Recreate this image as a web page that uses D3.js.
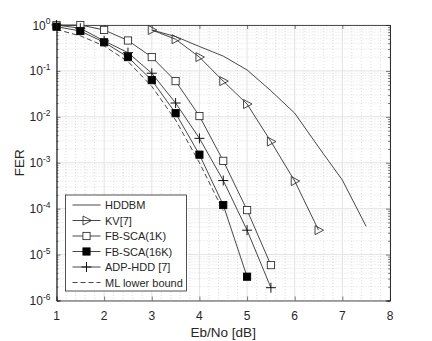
<!DOCTYPE html>
<html>
<head>
<meta charset="utf-8">
<script src="https://cdn.jsdelivr.net/npm/d3@7"></script>
<style>
  body { margin: 0; background: #fff; }
  text { font-family: "Liberation Sans", Arial, sans-serif; fill: #262626; }
</style>
</head>
<body>
<div id="chart"></div>
<script>
// data
const hddbmX = [3, 3.5, 4, 4.5, 5, 5.5, 6, 6.5, 7, 7.5];
const hddbm = [0.78, 0.56, 0.34, 0.21, 0.105, 0.037, 0.012, 0.0022, 4.2e-4, 4.1e-5];

const kvX = [3, 3.5, 4, 4.5, 5, 5.5, 6, 6.5];
const kv = [0.78, 0.49, 0.2, 0.06, 0.019, 0.0029, 4e-4, 3.4e-5];

const sca1kX = [1, 1.5, 2, 2.5, 3, 3.5, 4, 4.5, 5, 5.5];
const sca1k = [1.0, 1.0, 0.78, 0.46, 0.2, 0.06, 0.0104, 0.0011, 9.3e-5, 5.9e-6];

const sca16kX = [1, 1.5, 2, 2.5, 3, 3.5, 4, 4.5, 5];
const sca16k = [0.92, 0.74, 0.42, 0.2, 0.063, 0.012, 0.0015, 1.2e-4, 3.3e-6];

const adpX = [1, 1.5, 2, 2.5, 3, 3.5, 4, 4.5, 5, 5.5];
const adp = [1.0, 0.85, 0.45, 0.25, 0.089, 0.02, 0.0034, 4.1e-4, 3.4e-5, 1.9e-6];

const mlX = [1, 1.5, 2, 2.5, 3, 3.5, 4, 4.5];
const ml = [0.8, 0.58, 0.35, 0.16, 0.046, 0.0085, 0.001, 9e-5];

const xTicks = [1, 2, 3, 4, 5, 6, 7, 8];
const yExps = [0, -1, -2, -3, -4, -5, -6];

const legendNames = ['HDDBM', 'KV[7]', 'FB-SCA(1K)', 'FB-SCA(16K)', 'ADP-HDD [7]', 'ML lower bound'];

const width = 432, height = 341;
const margin = { top: 25, right: 42, bottom: 40.5, left: 56.5 };
const iw = width - margin.left - margin.right;
const ih = height - margin.top - margin.bottom;
const ink = '#262626';
const lineCol = '#333';

const svg = d3.select('#chart').append('svg')
  .attr('width', width)
  .attr('height', height);

const g = svg.append('g')
  .attr('transform', `translate(${margin.left}, ${margin.top})`);

const x = d3.scaleLinear().domain([1, 8]).range([0, iw]);
const y = d3.scaleLog().domain([1e-6, 1]).range([ih, 0]);

// minor grid
const xMinor = d3.range(1, 8.001, 0.2).filter(v => Math.abs(v - Math.round(v)) > 1e-6);
const yMinor = [];
yExps.slice(1).forEach(e => { for (let k = 2; k <= 9; k++) yMinor.push(k * Math.pow(10, e)); });

g.append('g').selectAll('line').data(xMinor).enter().append('line')
  .attr('x1', d => x(d)).attr('x2', d => x(d)).attr('y1', 0).attr('y2', ih)
  .attr('stroke', '#c8c8c8').attr('stroke-width', 0.6).attr('stroke-dasharray', '1,2');
g.append('g').selectAll('line').data(yMinor).enter().append('line')
  .attr('x1', 0).attr('x2', iw).attr('y1', d => y(d)).attr('y2', d => y(d))
  .attr('stroke', '#c8c8c8').attr('stroke-width', 0.6).attr('stroke-dasharray', '1,2');

// major grid
g.append('g').selectAll('line').data(xTicks).enter().append('line')
  .attr('x1', d => x(d)).attr('x2', d => x(d)).attr('y1', 0).attr('y2', ih)
  .attr('stroke', '#e3e3e3').attr('stroke-width', 1);
g.append('g').selectAll('line').data(yExps).enter().append('line')
  .attr('x1', 0).attr('x2', iw).attr('y1', d => y(Math.pow(10, d))).attr('y2', d => y(Math.pow(10, d)))
  .attr('stroke', '#e3e3e3').attr('stroke-width', 1);

// axes, ticks inside on all sides
const axB = d3.axisBottom(x).tickValues(xTicks).tickSize(-4).tickFormat('');
const axT = d3.axisTop(x).tickValues(xTicks).tickSize(-4).tickFormat('');
const yMajorVals = yExps.map(e => Math.pow(10, e));
const axL = d3.axisLeft(y).tickValues(yMajorVals).tickSize(-4).tickFormat('');
const axR = d3.axisRight(y).tickValues(yMajorVals).tickSize(-4).tickFormat('');
const axLm = d3.axisLeft(y).tickValues(yMinor).tickSize(-2).tickFormat('');
const axRm = d3.axisRight(y).tickValues(yMinor).tickSize(-2).tickFormat('');

[[axB, `translate(0,${ih})`], [axT, 'translate(0,0)'], [axL, 'translate(0,0)'],
 [axR, `translate(${iw},0)`], [axLm, 'translate(0,0)'], [axRm, `translate(${iw},0)`]]
  .forEach(([ax, tr]) => {
    const a = g.append('g').attr('transform', tr).call(ax);
    a.selectAll('line').attr('stroke', ink).attr('stroke-width', 0.6);
    a.select('.domain').attr('stroke', ink).attr('stroke-width', 0.8);
  });

// tick labels
g.append('g').selectAll('text').data(xTicks).enter().append('text')
  .attr('x', d => x(d)).attr('y', ih + 19)
  .attr('text-anchor', 'middle').attr('font-size', 12)
  .text(d => d);

const yl = g.append('g').selectAll('text').data(yExps).enter().append('text')
  .attr('x', -6).attr('y', d => y(Math.pow(10, d)) + 4.5)
  .attr('text-anchor', 'end').attr('font-size', 12);
yl.append('tspan').text('10');
yl.append('tspan').attr('dy', -5.5).attr('font-size', 8.5).text(d => d);

// axis titles
svg.append('text')
  .attr('x', margin.left + iw / 2).attr('y', 337)
  .attr('text-anchor', 'middle').attr('font-size', 13.5)
  .text('Eb/No [dB]');
svg.append('text')
  .attr('transform', `translate(24, ${margin.top + ih / 2}) rotate(-90)`)
  .attr('text-anchor', 'middle').attr('font-size', 13.5)
  .text('FER');

// series
const line = d3.line().x(d => x(d[0])).y(d => y(d[1]));
const zip = (xs, ys) => xs.map((v, i) => [v, ys[i]]);

const series = [
  { name: legendNames[0], pts: zip(hddbmX, hddbm), marker: 'none' },
  { name: legendNames[1], pts: zip(kvX, kv), marker: 'tri' },
  { name: legendNames[2], pts: zip(sca1kX, sca1k), marker: 'sq' },
  { name: legendNames[3], pts: zip(sca16kX, sca16k), marker: 'sqf' },
  { name: legendNames[4], pts: zip(adpX, adp), marker: 'plus' },
  { name: legendNames[5], pts: zip(mlX, ml), marker: 'none', dash: '5,3' }
];

function drawMarker(sel, type) {
  if (type === 'tri') {
    sel.append('path').attr('d', 'M-3.5,-4.5 L5,0 L-3.5,4.5 Z')
      .attr('fill', 'none').attr('stroke', lineCol).attr('stroke-width', 0.9);
  } else if (type === 'sq' || type === 'sqf') {
    sel.append('rect').attr('x', -3.6).attr('y', -3.6).attr('width', 7.2).attr('height', 7.2)
      .attr('fill', type === 'sqf' ? '#000' : '#fff')
      .attr('stroke', type === 'sqf' ? '#000' : lineCol).attr('stroke-width', 0.9);
  } else if (type === 'plus') {
    sel.append('path').attr('d', 'M-5,0 H5 M0,-5 V5')
      .attr('stroke', '#111').attr('stroke-width', 1);
  }
}

const plot = g.append('g');
series.forEach(s => {
  plot.append('path').datum(s.pts)
    .attr('d', line)
    .attr('fill', 'none')
    .attr('stroke', lineCol)
    .attr('stroke-width', 0.9)
    .attr('stroke-dasharray', s.dash || null);
});
series.forEach(s => {
  if (s.marker === 'none') return;
  s.pts.forEach(p => {
    const m = plot.append('g').attr('transform', `translate(${x(p[0])}, ${y(p[1])})`);
    drawMarker(m, s.marker);
  });
});

// legend
const lg = svg.append('g').attr('transform', 'translate(65.5, 195)');
lg.append('rect').attr('width', 121).attr('height', 96)
  .attr('fill', '#fff').attr('stroke', ink).attr('stroke-width', 0.8);
series.forEach((s, i) => {
  const yy = 10 + i * 15.5;
  lg.append('line').attr('x1', 7).attr('x2', 35).attr('y1', yy).attr('y2', yy)
    .attr('stroke', lineCol).attr('stroke-width', 0.9)
    .attr('stroke-dasharray', s.dash || null);
  const m = lg.append('g').attr('transform', `translate(21, ${yy})`);
  drawMarker(m, s.marker);
  lg.append('text').attr('x', 39.5).attr('y', yy + 4)
    .attr('font-size', 11).text(s.name);
});
</script>
</body>
</html>
